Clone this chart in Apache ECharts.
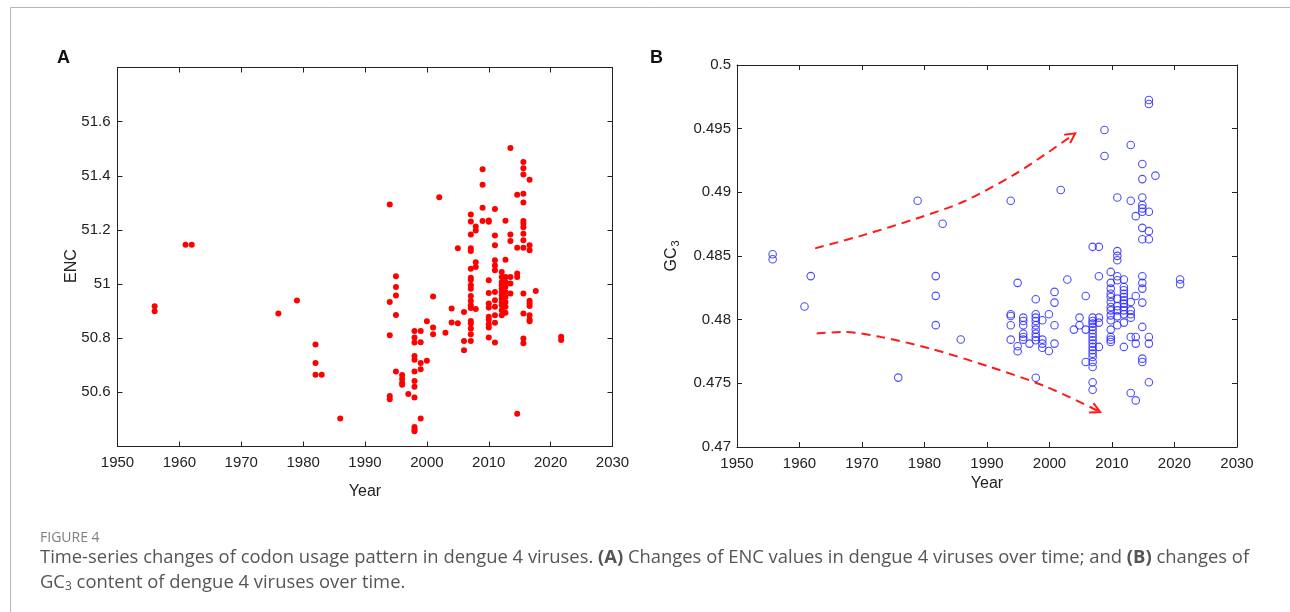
<!DOCTYPE html>
<html><head><meta charset="utf-8">
<script src="https://cdn.jsdelivr.net/npm/echarts@6/dist/echarts.min.js"></script>
<style>html,body{margin:0;padding:0;background:#fff}#c{width:1290px;height:612px}</style>
</head><body><div id="c"></div>
<script>
// ---------- Data ----------
const xTicksYears = [1950, 1960, 1970, 1980, 1990, 2000, 2010, 2020, 2030];
const encTicks = [50.6, 50.8, 51.0, 51.2, 51.4, 51.6];
const gc3Ticks = [0.47, 0.475, 0.48, 0.485, 0.49, 0.495, 0.5];

// Panel A: [year, ENC]
const encPoints = [
 [1956,50.918],[1956,50.900],[1961,51.145],[1962,51.145],[1976,50.891],[1979,50.939],
 [1982,50.777],[1982,50.708],[1982,50.665],[1983,50.665],[1986,50.503],
 [1994,51.294],[1994,50.934],[1994,50.811],[1994,50.587],[1994,50.575],
 [1995,51.029],[1995,50.989],[1995,50.958],[1995,50.886],[1995,50.677],
 [1996,50.664],[1996,50.649],[1996,50.635],[1996,50.628],
 [1997,50.594],
 [1998,50.827],[1998,50.803],[1998,50.784],[1998,50.734],[1998,50.720],[1998,50.677],[1998,50.642],[1998,50.621],[1998,50.581],[1998,50.472],[1998,50.464],[1998,50.456],
 [1999,50.827],[1999,50.785],[1999,50.708],[1999,50.685],[1999,50.503],
 [2000,50.863],[2000,50.717],
 [2001,50.954],[2001,50.840],[2001,50.815],
 [2002,51.321],[2003,50.820],[2004,50.910],[2004,50.858],[2005,51.132],[2005,50.855],
 [2006,50.897],[2006,50.790],[2006,50.756],
 [2007.1,51.257],[2007.1,51.231],[2007.1,51.183],[2007.1,51.132],[2007.1,51.122],[2007.1,51.057],[2007.1,51.023],[2007.1,51.015],[2007.1,50.996],[2007.1,50.983],[2007.1,50.956],[2007.1,50.938],[2007.1,50.922],[2007.1,50.912],[2007.1,50.864],[2007.1,50.854],[2007.1,50.836],[2007.1,50.815],[2007.1,50.790],
 [2007.9,51.213],[2007.9,51.198],[2007.9,51.081],[2007.9,51.063],[2007.9,50.908],
 [2009,51.424],[2009,51.367],[2009,51.282],[2009,51.233],
 [2010,51.235],[2010,51.230],[2010,51.014],[2010,50.967],[2010,50.928],[2010,50.913],[2010,50.879],[2010,50.869],[2010,50.852],[2010,50.840],[2010,50.803],
 [2011,51.277],[2011,51.179],[2011,51.143],[2011,51.088],[2011,51.069],[2011,51.051],[2011,50.971],[2011,50.940],[2011,50.916],[2011,50.885],[2011,50.857],[2011,50.784],
 [2012.1,51.045],[2012.1,51.026],[2012.1,51.008],[2012.1,50.996],[2012.1,50.983],[2012.1,50.971],[2012.1,50.959],[2012.1,50.946],[2012.1,50.934],[2012.1,50.922],[2012.1,50.903],[2012.1,50.885],
 [2012.7,51.234],[2012.7,51.090],[2012.7,51.026],[2012.7,51.008],[2012.7,50.990],[2012.7,50.971],[2012.7,50.952],[2012.7,50.934],[2012.7,50.916],[2012.7,50.894],
 [2013.5,51.503],[2013.5,51.183],[2013.5,51.159],[2013.5,51.026],[2013.5,51.002],[2013.5,50.965],
 [2014.6,51.330],[2014.6,51.134],[2014.6,51.039],[2014.6,51.026],[2014.6,50.521],
 [2015.6,51.451],[2015.6,51.428],[2015.6,51.405],[2015.6,51.334],[2015.6,51.301],[2015.6,51.233],[2015.6,51.223],[2015.6,51.210],[2015.6,51.186],[2015.6,51.162],[2015.6,51.134],[2015.6,50.965],[2015.6,50.891],[2015.6,50.799],[2015.6,50.781],
 [2016.6,51.385],[2016.6,51.143],[2016.6,51.125],[2016.6,50.938],[2016.6,50.928],[2016.6,50.919],[2016.6,50.885],[2016.6,50.869],[2016.6,50.863],
 [2017.6,50.974],
 [2021.7,50.805],[2021.7,50.793]
];

// Panel B: [year, GC3]
const gc3Points = [
 [1955.7,0.48514],[1955.7,0.48475],[1961.8,0.48342],[1960.8,0.48103],[1978.9,0.48934],[1982.9,0.48753],
 [1981.8,0.48342],[1981.8,0.48187],[1981.8,0.47957],[1985.8,0.47844],[1975.8,0.47545],
 [1993.8,0.48934],[1993.8,0.48042],[1993.8,0.48029],[1993.8,0.47956],[1993.8,0.47843],
 [1994.9,0.48289],[1994.9,0.47791],[1994.9,0.47752],
 [1995.8,0.48016],[1995.8,0.47990],[1995.8,0.47956],[1995.8,0.47890],[1995.8,0.47864],[1995.8,0.47843],
 [1996.8,0.47812],
 [1997.8,0.48160],[1997.8,0.48042],[1997.8,0.48016],[1997.8,0.47990],[1997.8,0.47956],[1997.8,0.47922],[1997.8,0.47890],[1997.8,0.47864],[1997.8,0.47838],[1997.8,0.47544],
 [1998.85,0.47995],[1998.85,0.47843],[1998.85,0.47812],[1998.85,0.47780],
 [1999.9,0.48042],[1999.9,0.47754],
 [2000.8,0.48218],[2000.8,0.48134],[2000.8,0.47956],[2000.8,0.47812],
 [2001.8,0.49018],[2002.85,0.48315],[2003.9,0.47922],[2004.8,0.48016],[2004.8,0.47956],
 [2005.8,0.48186],[2005.8,0.47922],[2005.8,0.47668],
 [2006.9,0.48572],[2006.9,0.48016],[2006.9,0.47990],[2006.9,0.47969],[2006.9,0.47943],[2006.9,0.47917],[2006.9,0.47890],[2006.9,0.47864],[2006.9,0.47838],[2006.9,0.47812],[2006.9,0.47786],[2006.9,0.47760],[2006.9,0.47733],[2006.9,0.47707],[2006.9,0.47668],[2006.9,0.47628],[2006.9,0.47508],[2006.9,0.47450],
 [2007.9,0.48572],[2007.9,0.48341],[2007.9,0.48016],[2007.9,0.47977],[2007.9,0.47786],
 [2008.8,0.49490],[2008.8,0.49285],
 [2009.8,0.48375],[2009.8,0.48289],[2009.8,0.48244],[2009.8,0.48204],[2009.8,0.48178],[2009.8,0.48139],[2009.8,0.48100],[2009.8,0.48073],[2009.8,0.48034],[2009.8,0.47996],[2009.8,0.47922],[2009.8,0.47864],[2009.8,0.47843],[2009.8,0.47825],
 [2010.85,0.48960],[2010.85,0.48538],[2010.85,0.48501],[2010.85,0.48467],[2010.85,0.48341],[2010.85,0.48310],[2010.85,0.48165],[2010.85,0.48105],[2010.85,0.48073],[2010.85,0.48026],[2010.85,0.47956],
 [2011.9,0.48315],[2011.9,0.48257],[2011.9,0.48231],[2011.9,0.48204],[2011.9,0.48178],[2011.9,0.48152],[2011.9,0.48126],[2011.9,0.48100],[2011.9,0.48073],[2011.9,0.48042],[2011.9,0.47977],[2011.9,0.47786],
 [2013,0.49372],[2013,0.48934],[2013,0.48139],[2013,0.48073],[2013,0.48042],[2013,0.48016],[2013,0.47864],[2013,0.47424],
 [2013.8,0.48813],[2013.8,0.48186],[2013.8,0.47864],[2013.8,0.47812],[2013.8,0.47366],
 [2014.85,0.49222],[2014.85,0.49104],[2014.85,0.48960],[2014.85,0.48900],[2014.85,0.48874],[2014.85,0.48847],[2014.85,0.48721],[2014.85,0.48632],[2014.85,0.48341],[2014.85,0.48289],[2014.85,0.48244],[2014.85,0.48134],[2014.85,0.47943],[2014.85,0.47694],[2014.85,0.47668],
 [2015.9,0.49725],[2015.9,0.49694],[2015.9,0.48847],[2015.9,0.48695],[2015.9,0.48632],[2015.9,0.47864],[2015.9,0.47812],[2015.9,0.47508],
 [2016.95,0.49131],
 [2020.9,0.48315],[2020.9,0.48279]
];

// Annotation arrows in panel B (dashed curves)
const upperArrow = [[1962.5,0.4856],[1970.2,0.48664],[1978.75,0.48795],[1986.2,0.48926],[1994.2,0.49135],[1999.55,0.49306],[2004.1,0.49463]];
const lowerArrow = [[1962.75,0.47891],[1967.0,0.47904],[1972.9,0.47865],[1980.9,0.47773],[1990.5,0.47629],[1999.55,0.47472],[2008.1,0.47275]];

// ---------- Chart ----------
const chart = echarts.init(document.getElementById('c'), null, {renderer: 'canvas'});
const FONT = 'Liberation Sans, Arial, sans-serif';
const CAPFONT = '"Open Sans", sans-serif';
const axisCol = '#222';
const lblStyle = {color: '#222', fontSize: 15, fontFamily: FONT};

function xAx(gi, show) {
  return {
    type: 'value', gridIndex: gi, min: xTicksYears[0], max: xTicksYears[xTicksYears.length-1], interval: 10,
    position: show ? 'bottom' : 'top',
    axisLine: {show: true, lineStyle: {color: axisCol, width: 1}},
    axisTick: {show: true, inside: true, length: 5, lineStyle: {color: axisCol}},
    axisLabel: {show: show, margin: 9, ...lblStyle, formatter: v => String(Math.round(v))},
    splitLine: {show: false},
    name: show ? 'Year' : '', nameLocation: 'middle',
    nameGap: gi === 0 ? 37 : 28,
    nameTextStyle: {color: '#222', fontSize: 16, fontFamily: FONT}
  };
}
const yA = (show) => ({
  type: 'value', gridIndex: 0, min: 50.4, max: 51.8, interval: 0.2,
  position: show ? 'left' : 'right',
  axisLine: {show: true, lineStyle: {color: axisCol, width: 1}},
  axisTick: {show: true, inside: true, length: 5, lineStyle: {color: axisCol}},
  axisLabel: {show: show, margin: 7, ...lblStyle,
    formatter: v => (v < encTicks[0] - 1e-6 || v > encTicks[encTicks.length-1] + 1e-6) ? '' : String(parseFloat(v.toFixed(1)))},
  splitLine: {show: false}
});
const yB = (show) => ({
  type: 'value', gridIndex: 1, min: gc3Ticks[0], max: gc3Ticks[gc3Ticks.length-1], interval: 0.005,
  position: show ? 'left' : 'right',
  axisLine: {show: true, lineStyle: {color: axisCol, width: 1}},
  axisTick: {show: true, inside: true, length: 5, lineStyle: {color: axisCol}},
  axisLabel: {show: show, margin: 6, ...lblStyle, formatter: v => String(parseFloat(v.toFixed(3)))},
  splitLine: {show: false},
  name: show ? 'GC{s|3}' : '', nameLocation: 'middle', nameGap: 56, nameRotate: 90,
  nameTextStyle: {color: '#222', fontSize: 16, fontFamily: FONT,
    rich: {s: {fontSize: 11, fontFamily: FONT, color: '#222', padding: [7, 0, 0, 1]}}}
});

function arrowHead(params, api) {
  const tip = api.coord([api.value(0), api.value(1)]);
  const prev = api.coord([api.value(2), api.value(3)]);
  const ang = Math.atan2(tip[1] - prev[1], tip[0] - prev[0]);
  const L = 11, a = Math.PI / 6.5;
  const p1 = [tip[0] - L * Math.cos(ang - a), tip[1] - L * Math.sin(ang - a)];
  const p2 = [tip[0] - L * Math.cos(ang + a), tip[1] - L * Math.sin(ang + a)];
  return {type: 'polyline', shape: {points: [p1, tip, p2]},
    style: {stroke: '#ff1a1a', lineWidth: 2, fill: null}};
}
const lastTwo = arr => [arr[arr.length-1][0], arr[arr.length-1][1], arr[arr.length-2][0], arr[arr.length-2][1]];

chart.setOption({
  animation: false,
  backgroundColor: '#fff',
  grid: [
    {left: 117.5, top: 67.5, width: 495, height: 379},
    {left: 737, top: 65, width: 500, height: 382}
  ],
  xAxis: [xAx(0, true), xAx(0, false), xAx(1, true), xAx(1, false)],
  yAxis: [yA(true), yA(false), yB(true), yB(false)],
  series: [
    {type: 'scatter', xAxisIndex: 0, yAxisIndex: 0, data: encPoints, symbol: 'circle', symbolSize: 6,
      itemStyle: {color: '#ff0000', opacity: 1}},
    {type: 'line', xAxisIndex: 2, yAxisIndex: 2, data: upperArrow, smooth: 0.3, symbol: 'none',
      lineStyle: {color: '#ff1a1a', width: 2, type: [9, 6]}, z: 3},
    {type: 'line', xAxisIndex: 2, yAxisIndex: 2, data: lowerArrow, smooth: 0.3, symbol: 'none',
      lineStyle: {color: '#ff1a1a', width: 2, type: [9, 6]}, z: 3},
    {type: 'custom', xAxisIndex: 2, yAxisIndex: 2, renderItem: arrowHead,
      data: [lastTwo(upperArrow), lastTwo(lowerArrow)], z: 3},
    {type: 'scatter', xAxisIndex: 2, yAxisIndex: 2, data: gc3Points, symbol: 'circle', symbolSize: 7.5,
      itemStyle: {color: 'rgba(0,0,0,0)', borderColor: '#1f1fff', borderWidth: 1.1}, z: 4}
  ],
  graphic: [
    {type: 'polyline', shape: {points: [[10.5, 700], [10.5, 7.5], [1300, 7.5]]},
      style: {stroke: '#b5b5b5', lineWidth: 1, fill: null}},
    {type: 'text', x: 72, y: 266, rotation: Math.PI / 2,
      style: {text: 'ENC', font: '16px ' + FONT, fill: '#222', align: 'center', verticalAlign: 'middle'}},
    {type: 'text', left: 57, top: 49, style: {text: 'A', font: 'bold 18px ' + FONT, fill: '#111'}},
    {type: 'text', left: 650, top: 49, style: {text: 'B', font: 'bold 18px ' + FONT, fill: '#111'}},
    {type: 'text', left: 40, top: 531, style: {text: 'FIGURE 4', font: '14px ' + CAPFONT, fill: '#808080'}},
    {type: 'text', left: 40, top: 549, style: {
      text: 'Time-series changes of codon usage pattern in dengue 4 viruses. {b|(A)} Changes of ENC values in dengue 4 viruses over time; and {b|(B)} changes of',
      font: '18.4px ' + CAPFONT, fill: '#555',
      rich: {b: {fontWeight: 'bold', fontSize: 18.4, fontFamily: CAPFONT, fill: '#555'}}}},
    {type: 'text', left: 40, top: 574, style: {
      text: 'GC{s|3} content of dengue 4 viruses over time.',
      font: '18.4px ' + CAPFONT, fill: '#555',
      rich: {s: {fontSize: 12, fontFamily: CAPFONT, fill: '#555', padding: [8, 0, 0, 0]}}}}
  ]
});
</script></body></html>
